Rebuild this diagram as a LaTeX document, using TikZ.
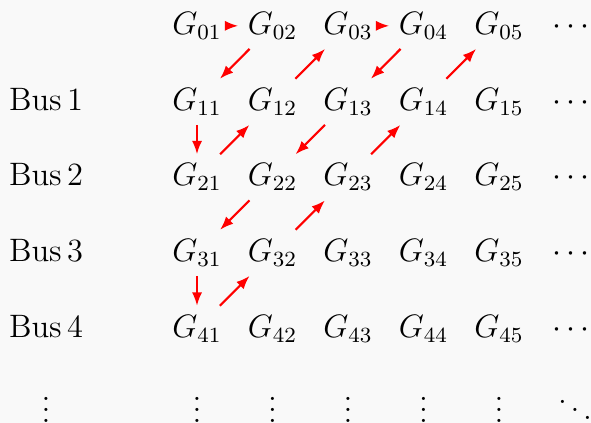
\documentclass[tikz,border=0pt]{standalone}
\usetikzlibrary{arrows.meta}
\definecolor{bgc}{RGB}{249,249,249}
\begin{document}
\begin{tikzpicture}[x=0.37pt,y=-0.37pt,
  every node/.style={font=\fontsize{12}{14}\selectfont},
  cell/.style={anchor=base},
  arr/.style={-{Latex[length=5pt,width=3.8pt]}, red, line width=0.8pt}]
\fill[bgc] (0,0) rectangle (591,423);
\useasboundingbox (0,0) rectangle (591,423);
% G entries
\foreach \r/\y in {0/34.5,1/110.5,2/186,3/261.5,4/337.5}{
  \foreach \c/\x in {1/197,2/272.5,3/348,4/423.5,5/499}{
    \node[cell] (g\r\c) at (\x,\y) {$G_{\r\c}$};
  }
  \node[cell] (c\r) at (571,\y) {$\cdots$};
}
% bus labels
\foreach \r/\y in {1/110.5,2/186,3/261.5,4/337.5}{
  \node[cell] (b\r) at (46,\y) {Bus\,\r};
}
% last row
\node[cell] (v0) at (46,422.5) {$\vdots$};
\foreach \c/\x in {1/197,2/272.5,3/348,4/423.5,5/499}{
  \node[cell] (v\c) at (\x,422.5) {$\vdots$};
}
\node[cell] (dd) at (575,422.5) {$\ddots$};
% arrows
\draw[arr] (g01) -- (g02);
\draw[arr] (g02) -- (g11);
\draw[arr] (g12) -- (g03);
\draw[arr] (g03) -- (g04);
\draw[arr] (g04) -- (g13);
\draw[arr] (g14) -- (g05);
\draw[arr] (g11) -- (g21);
\draw[arr] (g21) -- (g12);
\draw[arr] (g13) -- (g22);
\draw[arr] (g23) -- (g14);
\draw[arr] (g22) -- (g31);
\draw[arr] (g32) -- (g23);
\draw[arr] (g31) -- (g41);
\draw[arr] (g41) -- (g32);
\end{tikzpicture}
\end{document}
